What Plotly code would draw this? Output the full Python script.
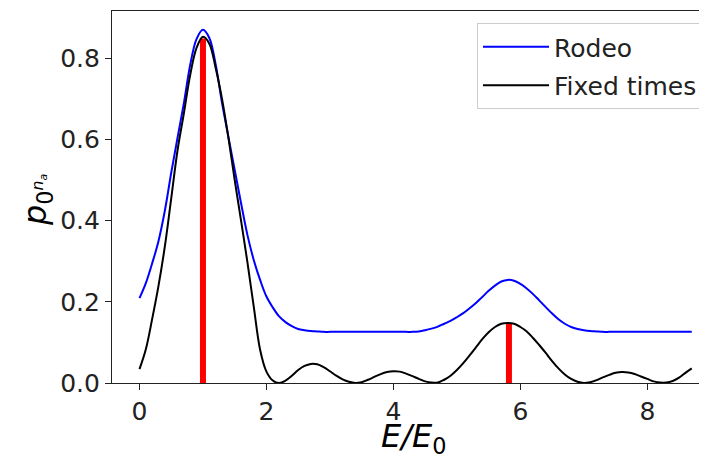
import plotly.graph_objects as go

# Energy grid E/E0
energy = [0.0, 0.1, 0.2, 0.3, 0.4, 0.5, 0.6, 0.7, 0.8, 0.9,
          1.0, 1.1, 1.2, 1.3, 1.4, 1.5, 1.6, 1.7, 1.8, 1.9,
          2.0, 2.1, 2.2, 2.3, 2.4, 2.5, 2.6, 2.7, 2.8, 2.9,
          3.0, 3.1, 3.2, 3.3, 3.4, 3.5, 3.6, 3.7, 3.8, 3.9,
          4.0, 4.1, 4.2, 4.3, 4.4, 4.5, 4.6, 4.7, 4.8, 4.9,
          5.0, 5.1, 5.2, 5.3, 5.4, 5.5, 5.6, 5.7, 5.8, 5.9,
          6.0, 6.1, 6.2, 6.3, 6.4, 6.5, 6.6, 6.7, 6.8, 6.9,
          7.0, 7.1, 7.2, 7.3, 7.4, 7.5, 7.6, 7.7, 7.8, 7.9,
          8.0, 8.1, 8.2, 8.3, 8.4, 8.5, 8.6, 8.7]

rodeo = [0.209, 0.246, 0.295, 0.350, 0.425, 0.518, 0.605, 0.690, 0.785, 0.848,
         0.870, 0.850, 0.785, 0.690, 0.607, 0.525, 0.443, 0.365, 0.303, 0.254,
         0.213, 0.186, 0.164, 0.150, 0.140, 0.133, 0.130, 0.128, 0.127, 0.126,
         0.126, 0.126, 0.126, 0.126, 0.126, 0.126, 0.126, 0.126, 0.126, 0.126,
         0.126, 0.126, 0.126, 0.126, 0.127, 0.130, 0.134, 0.139, 0.146, 0.153,
         0.162, 0.172, 0.184, 0.197, 0.212, 0.227, 0.240, 0.250, 0.254, 0.252,
         0.244, 0.233, 0.219, 0.203, 0.187, 0.171, 0.157, 0.146, 0.138, 0.133,
         0.130, 0.128, 0.127, 0.126, 0.126, 0.126, 0.126, 0.126, 0.126, 0.126,
         0.126, 0.126, 0.126, 0.126, 0.126, 0.126, 0.126, 0.126]

fixed_times = [0.034, 0.083, 0.158, 0.240, 0.337, 0.455, 0.574, 0.665, 0.760, 0.826,
               0.853, 0.836, 0.776, 0.700, 0.605, 0.500, 0.400, 0.298, 0.188, 0.082,
               0.028, 0.006, 0.000, 0.006, 0.018, 0.032, 0.042, 0.047, 0.046, 0.039,
               0.029, 0.018, 0.009, 0.003, 0.000, 0.002, 0.008, 0.015, 0.022, 0.027,
               0.029, 0.028, 0.023, 0.017, 0.010, 0.004, 0.001, 0.001, 0.008, 0.018,
               0.032, 0.049, 0.068, 0.088, 0.108, 0.125, 0.138, 0.146, 0.148, 0.146,
               0.138, 0.127, 0.111, 0.093, 0.074, 0.054, 0.036, 0.021, 0.010, 0.003,
               0.000, 0.002, 0.007, 0.014, 0.020, 0.025, 0.027, 0.026, 0.022, 0.016,
               0.010, 0.004, 0.001, 0.001, 0.005, 0.013, 0.025, 0.036]

# Red vertical markers (eigenvalue positions and weights)
marker_energy = [1.0, 5.82]
marker_height = [0.849, 0.147]

x_ticks = [0, 2, 4, 6, 8]
y_ticks = [0.0, 0.2, 0.4, 0.6, 0.8]

FONT = "DejaVu Sans"
AX = "#222222"
TICK_SIZE = 25

fig = go.Figure()

for e, h in zip(marker_energy, marker_height):
    fig.add_trace(go.Scatter(x=[e, e], y=[0, h], mode="lines",
                             line=dict(color="#ff0000", width=6),
                             showlegend=False, hoverinfo="skip"))

fig.add_trace(go.Scatter(x=energy, y=rodeo, mode="lines", name="Rodeo",
                         line=dict(color="#0000ff", width=2, shape="spline"),
                         legendgroup="a"))
fig.add_trace(go.Scatter(x=energy, y=fixed_times, mode="lines", name="Fixed times",
                         line=dict(color="#000000", width=2, shape="spline"),
                         legendgroup="b"))

# page has an 8px body margin: figure is laid out in page coords minus 8
OFF = 8
W, H = 707 - OFF, 459 - OFF
L, T = 112 - OFF, 11 - OFF
BOTTOM = 383 - OFF
B = H - BOTTOM
PW = W - L
PH = BOTTOM - T


def px(xp):
    return (xp - OFF - L) / PW


def py(yp):
    return (BOTTOM - (yp - OFF)) / PH


fig.update_layout(
    width=W, height=H,
    margin=dict(l=L, r=0, t=T, b=B, pad=0, autoexpand=False),
    plot_bgcolor="white", paper_bgcolor="white",
    font=dict(family=FONT, size=TICK_SIZE, color="#000000"),
    showlegend=True,
    legend=dict(
        x=px(703), y=py(23), xanchor="right", yanchor="top",
        bgcolor="rgba(255,255,255,0.9)", bordercolor="#cccccc", borderwidth=1,
        font=dict(family=FONT, size=TICK_SIZE, color="#222222"),
        traceorder="grouped", tracegroupgap=3,
        itemwidth=66,
    ),
    xaxis=dict(
        range=[-0.433, 8.94], tickmode="array", tickvals=x_ticks,
        ticktext=[str(v) for v in x_ticks], automargin=False,
        showgrid=False, zeroline=False,
        showline=True, linecolor=AX, linewidth=1.2, mirror=True,
        ticks="outside", ticklen=6, tickwidth=1.2, tickcolor=AX,
        tickfont=dict(family=FONT, size=TICK_SIZE, color="#222222"),
    ),
    yaxis=dict(
        range=[0, 0.9165], tickmode="array", tickvals=y_ticks,
        ticktext=["%.1f" % v for v in y_ticks], automargin=False,
        showgrid=False, zeroline=False,
        showline=True, linecolor=AX, linewidth=1.2, mirror=False,
        ticks="outside", ticklen=6, tickwidth=1.2, tickcolor=AX,
        tickfont=dict(family=FONT, size=TICK_SIZE, color="#222222"),
    ),
    annotations=[
        dict(text="<i>E/E</i><sub>0</sub>", xref="paper", yref="paper",
             x=px(413), y=py(438),
             xanchor="center", yanchor="middle", showarrow=False,
             font=dict(family=FONT, size=32, color="#000000")),
        dict(text="<i>p</i><sub>0<sup><i>n<sub>a</sub></i></sup></sub>",
             xref="paper", yref="paper",
             x=px(37), y=py(200),
             xanchor="center", yanchor="middle", showarrow=False, textangle=-90,
             font=dict(family=FONT, size=32, color="#000000")),
    ],
)

fig.write_html("out.html")
